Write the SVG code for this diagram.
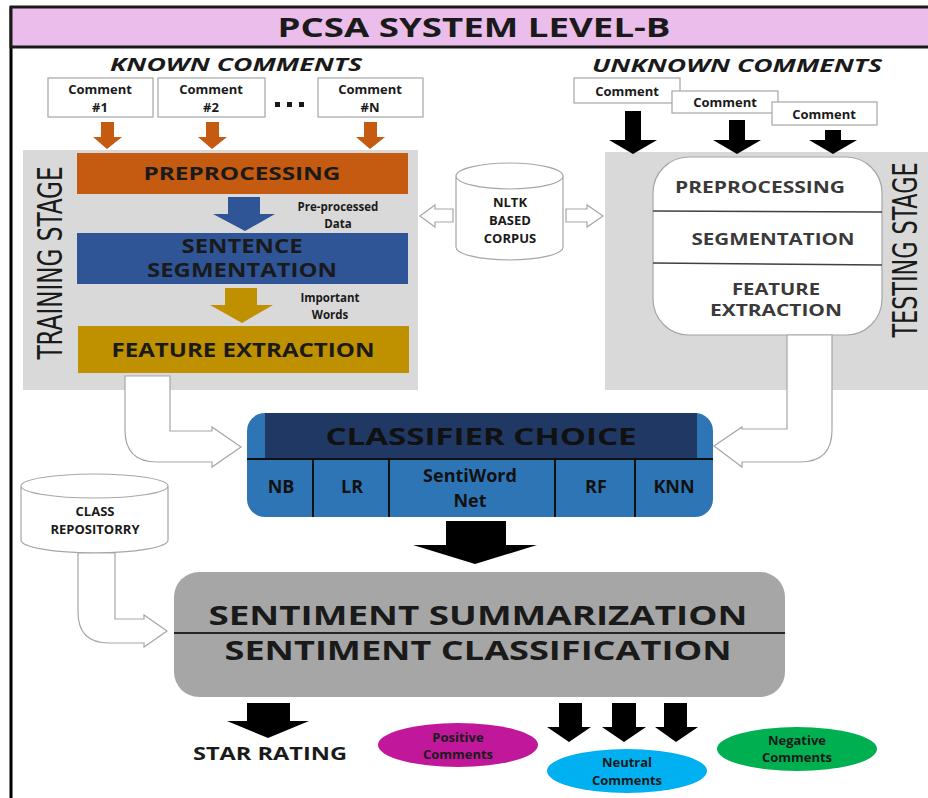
<svg xmlns="http://www.w3.org/2000/svg" width="928" height="798" viewBox="0 0 928 798">
<defs>
<style>
text{font-family:"Open Sans","Liberation Sans",sans-serif;font-weight:bold;fill:#1a1a1a;text-anchor:middle}
.cb{fill:#fff;stroke:#a6a6a6;stroke-width:1.2}
.wa{fill:#fff;stroke:#a6a6a6;stroke-width:1.2}
.s13{font-size:13px}
.stage{font-family:"Liberation Sans Narrow","DejaVu Sans Condensed","Liberation Sans",sans-serif;font-weight:normal;font-size:33px;fill:#1a1a1a}
.tt{font-size:16px;fill:#3a3a3a}
.cell{font-size:18px;fill:#111}
.blk{fill:#000}
.lbl{font-size:11.5px}
</style>
</defs>
<rect width="928" height="798" fill="#fff"/>
<g id="frame">
<line x1="11" y1="7" x2="11" y2="798" stroke="#000" stroke-width="3"/>
<rect x="11" y="7" width="922" height="40" fill="#ebbdea" stroke="#1a1a1a" stroke-width="3"/>
<text x="474" y="37" font-size="27" textLength="393" lengthAdjust="spacingAndGlyphs">PCSA SYSTEM LEVEL-B</text>
</g>
<g id="known-comments">
<text x="236" y="71" font-size="17" font-style="italic" textLength="252" lengthAdjust="spacingAndGlyphs">KNOWN COMMENTS</text>
<rect class="cb" x="48" y="78" width="105" height="39"/>
<text class="s13" x="100" y="94">Comment</text><text class="s13" x="100" y="112">#1</text>
<rect class="cb" x="158" y="78" width="107" height="39"/>
<text class="s13" x="211" y="94">Comment</text><text class="s13" x="211" y="112">#2</text>
<rect x="275" y="102" width="5" height="5" fill="#1a1a1a"/><rect x="287" y="102" width="5" height="5" fill="#1a1a1a"/><rect x="299" y="102" width="5" height="5" fill="#1a1a1a"/>
<rect class="cb" x="318" y="78" width="105" height="39"/>
<text class="s13" x="370" y="94">Comment</text><text class="s13" x="370" y="112">#N</text>
</g>
<g id="unknown-comments">
<text x="737" y="72" font-size="17" font-style="italic" textLength="290" lengthAdjust="spacingAndGlyphs">UNKNOWN COMMENTS</text>
<rect class="cb" x="574" y="78" width="106" height="25"/>
<text class="s13" x="627" y="96">Comment</text>
<rect class="cb" x="672" y="91" width="106" height="22"/>
<text class="s13" x="725" y="107">Comment</text>
<rect class="cb" x="772" y="102" width="105" height="23"/>
<text class="s13" x="824" y="119">Comment</text>
</g>
<g id="training-stage">
<rect x="23" y="150" width="395" height="240" fill="#d9d9d9"/>
<text class="stage" transform="translate(62,263) rotate(-90)" textLength="193" lengthAdjust="spacingAndGlyphs">TRAINING STAGE</text>
</g>
<g id="preprocessing">
<rect x="77" y="153" width="331" height="41" fill="#c55a11"/>
<text x="242" y="180" font-size="18" textLength="197" lengthAdjust="spacingAndGlyphs">PREPROCESSING</text>
</g>
<g id="sentence-segmentation">
<rect x="77" y="233" width="331" height="51" fill="#2f5597"/>
<text x="242" y="253" font-size="19" textLength="121" lengthAdjust="spacingAndGlyphs">SENTENCE</text>
<text x="242" y="277" font-size="19" textLength="190" lengthAdjust="spacingAndGlyphs">SEGMENTATION</text>
</g>
<g id="feature-extraction">
<rect x="78" y="326" width="331" height="47" fill="#bf9000"/>
<text x="243" y="357" font-size="19" textLength="263" lengthAdjust="spacingAndGlyphs">FEATURE EXTRACTION</text>
</g>
<g id="nltk-corpus">
<path d="M456,176 L456,247 A53.5,13 0 0 0 563,247 L563,176 A53.5,13 0 0 0 456,176 A53.5,13 0 0 0 563,176" fill="#fff" stroke="#a6a6a6" stroke-width="1.2"/>
<text class="s13" x="510" y="207">NLTK</text>
<text class="s13" x="510" y="225">BASED</text>
<text class="s13" x="510" y="243">CORPUS</text>
</g>
<g id="testing-stage">
<rect x="605" y="152" width="323" height="238" fill="#d9d9d9"/>
<rect x="653" y="157" width="229" height="178" rx="36" fill="#fff" stroke="#a6a6a6" stroke-width="1.2"/>
<line x1="653" y1="211" x2="882" y2="212" stroke="#404040" stroke-width="1.5"/>
<line x1="653" y1="263" x2="882" y2="265" stroke="#404040" stroke-width="1.5"/>
<text class="tt" x="760" y="193" textLength="170" lengthAdjust="spacingAndGlyphs">PREPROCESSING</text>
<text class="tt" x="773" y="245" textLength="163" lengthAdjust="spacingAndGlyphs">SEGMENTATION</text>
<text class="tt" x="776" y="295" textLength="88" lengthAdjust="spacingAndGlyphs">FEATURE</text>
<text class="tt" x="776" y="316" textLength="132" lengthAdjust="spacingAndGlyphs">EXTRACTION</text>
<text class="stage" transform="translate(917,250) rotate(-90)" textLength="175" lengthAdjust="spacingAndGlyphs">TESTING STAGE</text>
</g>
<g id="classifier-choice">
<rect x="247" y="413" width="466" height="104" rx="18" fill="#2e75b6"/>
<rect x="265" y="413" width="432" height="46" fill="#203864"/>
<line x1="247" y1="459" x2="713" y2="459" stroke="#111" stroke-width="2"/>
<line x1="313" y1="459" x2="313" y2="517" stroke="#111" stroke-width="2"/>
<line x1="389" y1="459" x2="389" y2="517" stroke="#111" stroke-width="2"/>
<line x1="555" y1="459" x2="555" y2="517" stroke="#111" stroke-width="2"/>
<line x1="635" y1="459" x2="635" y2="517" stroke="#111" stroke-width="2"/>
<text x="481" y="445" font-size="23" textLength="311" lengthAdjust="spacingAndGlyphs" style="fill:#111">CLASSIFIER CHOICE</text>
<text class="cell" x="281" y="493">NB</text>
<text class="cell" x="352" y="493">LR</text>
<text class="cell" x="470" y="482">SentiWord</text>
<text class="cell" x="470" y="507">Net</text>
<text class="cell" x="596" y="493">RF</text>
<text class="cell" x="674" y="493">KNN</text>
</g>
<g id="class-repository">
<path d="M21,486 L21,540 A73.5,13 0 0 0 168,540 L168,486 A73.5,12 0 0 0 21,486 A73.5,12 0 0 0 168,486" fill="#fff" stroke="#a6a6a6" stroke-width="1.2"/>
<text class="s13" x="95" y="516">CLASS</text>
<text class="s13" x="95" y="534">REPOSITORRY</text>
</g>
<g id="sentiment">
<rect x="174" y="572" width="611" height="125" rx="25" fill="#a6a6a6"/>
<line x1="174" y1="633" x2="785" y2="633" stroke="#262626" stroke-width="2"/>
<text x="478" y="625" font-size="26" textLength="539" lengthAdjust="spacingAndGlyphs">SENTIMENT SUMMARIZATION</text>
<text x="478" y="660" font-size="26" textLength="507" lengthAdjust="spacingAndGlyphs">SENTIMENT CLASSIFICATION</text>
</g>
<g id="star-rating">
<text x="270" y="760" font-size="18" textLength="154" lengthAdjust="spacingAndGlyphs">STAR RATING</text>
</g>
<g id="positive">
<ellipse cx="458" cy="745" rx="80" ry="22" fill="#c0179b"/>
<text class="s13" x="458" y="742">Positive</text>
<text class="s13" x="458" y="759">Comments</text>
</g>
<g id="neutral">
<ellipse cx="627" cy="771" rx="80" ry="22" fill="#00b0f0"/>
<text class="s13" x="627" y="767">Neutral</text>
<text class="s13" x="627" y="785">Comments</text>
</g>
<g id="negative">
<ellipse cx="797" cy="749" rx="80" ry="22" fill="#00b050"/>
<text class="s13" x="797" y="745">Negative</text>
<text class="s13" x="797" y="762">Comments</text>
</g>
<g id="connectors">
<path fill="#c55a11" d="M101,122 H114 V137 H122 L107,149 L93,137 H101 Z"/>
<path fill="#c55a11" d="M206,122 H219 V137 H227 L212,149 L198,137 H206 Z"/>
<path fill="#c55a11" d="M364,122 H377 V137 H385 L370,149 L356,137 H364 Z"/>
<path class="blk" d="M625,111 H641 V140 H657 L633,154 L609,140 H625 Z"/>
<path class="blk" d="M729,120 H745 V140 H761 L737,154 L713,140 H729 Z"/>
<path class="blk" d="M825,130 H841 V140 H857 L833,154 L809,140 H825 Z"/>
<path fill="#2f5597" d="M228,197 H260 V214 H275 L245,231 L213,214 H228 Z"/>
<path fill="#bf9000" d="M225,288 H257 V305 H273 L242,323 L210,305 H225 Z"/>
<text class="lbl" x="338" y="211">Pre-processed</text>
<text class="lbl" x="338" y="228">Data</text>
<text class="lbl" x="330" y="302">Important</text>
<text class="lbl" x="330" y="319">Words</text>
<path class="wa" d="M453,209 L435,209 L435,205 L420,216 L435,227 L435,222 L453,222 Z"/>
<path class="wa" d="M566,209 L587,209 L587,205 L603,216 L587,227 L587,222 L566,222 Z"/>
<path class="wa" d="M125,376 L125,430 Q125,462 157,462 L212,462 L212,467 L241,447 L212,427 L212,431 L170,431 L170,376 Z"/>
<path class="wa" d="M787,335 L787,429 L742,429 L742,427 L714,446 L742,467 L742,462 L800,462 Q832,462 832,430 L832,335 Z"/>
<path class="wa" d="M78,553 L78,612 Q78,643 109,643 L144,643 L144,647 L167,631 L144,615 L144,619 L115,619 L115,553 Z"/>
<path class="blk" d="M446,521 H506 V545 H537 L475,564 L413,545 H446 Z"/>
<path class="blk" d="M247,703 H290 V721 H309 L268,738 L227,721 H247 Z"/>
<path class="blk" d="M559,703 H582 V727 H591 L569,742 L547,727 H559 Z"/>
<path class="blk" d="M612,703 H636 V727 H646 L624,742 L602,727 H612 Z"/>
<path class="blk" d="M664,703 H687 V727 H698 L676,742 L655,727 H664 Z"/>
</g>
</svg>
